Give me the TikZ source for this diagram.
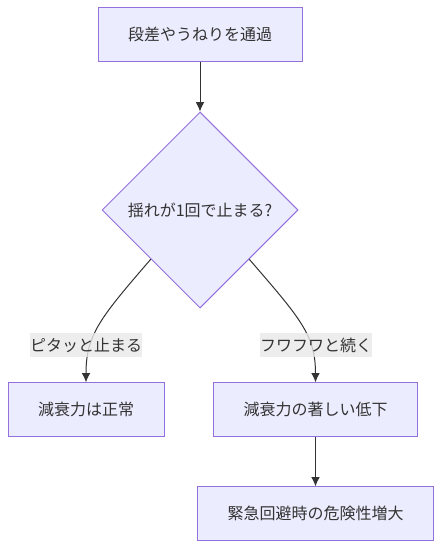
\documentclass[tikz,border=0pt]{standalone}
\usepackage{fontspec}
\newfontfamily\jpfont{Noto Sans CJK JP}
\usetikzlibrary{arrows.meta,shapes.geometric}
\definecolor{boxfill}{HTML}{ECECFF}
\definecolor{boxline}{HTML}{9370DB}
\definecolor{edgeline}{HTML}{333333}
\definecolor{labelbg}{HTML}{E8E8E8}
\tikzset{
  stepbox/.style={draw=boxline,fill=boxfill,text=edgeline,line width=0.75pt,
    font=\jpfont\fontsize{12}{14}\selectfont,inner xsep=22.5pt,inner ysep=0pt,minimum height=40pt},
  askbox/.style={diamond,aspect=1,draw=boxline,fill=boxfill,text=edgeline,line width=0.75pt,
    font=\jpfont\fontsize{12}{14}\selectfont,inner sep=0pt,minimum width=147pt,minimum height=147pt},
  flow/.style={draw=edgeline,line width=0.75pt,-{Latex[length=7pt,width=6.5pt]}},
  edgetext/.style={fill=labelbg,fill opacity=0.8,text opacity=1,text=edgeline,
    font=\jpfont\fontsize{12}{14}\selectfont,inner sep=0pt,minimum height=18pt}
}
\begin{document}
\begin{tikzpicture}[x=0.75pt,y=-0.75pt]
        \useasboundingbox (0,0) rectangle (442,548);
        % nodes
        \node[stepbox] (pass) at (200,34.5) {段差やうねりを通過};
        \node[askbox] (ask) at (200,210) {揺れが1回で止まる?};
        \node[stepbox] (ok) at (86,409.5) {減衰力は正常};
        \node[stepbox] (weak) at (315.5,409.5) {減衰力の著しい低下};
        \node[stepbox] (risk) at (315.5,513.5) {緊急回避時の危険性増大};
        % edges
        \draw[flow] (pass) -- (ask);
        \draw[flow] (ask.south west) .. controls (100,318) and (86,335) .. (ok.north);
        \draw[flow] (ask.south east) .. controls (300,318) and (315.5,335) .. (weak.north);
        \draw[flow] (weak) -- (risk);
        % edge labels
        \node[edgetext] (okl) at (86,345) {ピタッと止まる};
        \node[edgetext] (weakl) at (316,345) {フワフワと続く};
\end{tikzpicture}
\end{document}
